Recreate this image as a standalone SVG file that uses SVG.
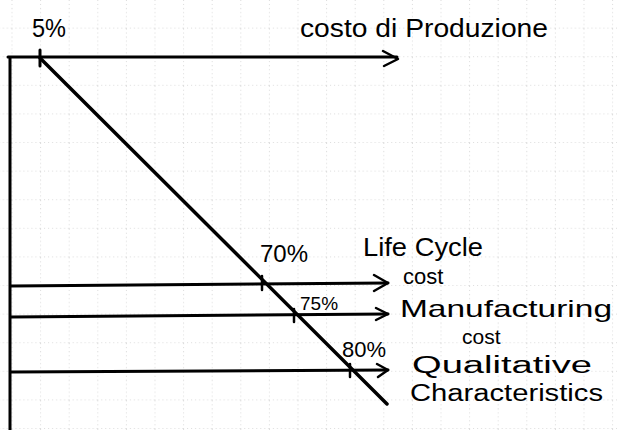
<svg xmlns="http://www.w3.org/2000/svg" width="617" height="430" viewBox="0 0 617 430">
<defs>
<style>
.grid{stroke:#b8b8b8;stroke-width:1;stroke-dasharray:1 3;fill:none}
.ln{stroke:#000;stroke-width:3;fill:none;stroke-linecap:round;stroke-linejoin:round}
.hd{stroke:#000;stroke-width:2.5;fill:none;stroke-linecap:round;stroke-linejoin:round}
.t{font-family:"Liberation Sans","DejaVu Sans",sans-serif;fill:#000}
</style>
<pattern id="g" width="28.6" height="28.6" patternUnits="userSpaceOnUse" x="11.5" y="0">
<path class="grid" d="M0 0V28.6M0 28.6H28.6"/>
</pattern>
</defs>
<rect width="617" height="430" fill="#fff"/>
<rect width="617" height="430" fill="url(#g)"/>
<g id="connectors">
<path class="ln" d="M10 58V430"/>
<path class="ln" d="M8 57H397"/>
<path class="hd" d="M383 51L398 59L384 66"/>
<path class="ln" d="M40 50V66"/>
<path class="ln" d="M40 58L387 404" style="stroke-width:3.5"/>
<path class="ln" d="M11 286L388 283"/>
<path class="hd" d="M374 275L388 283L374 291"/>
<path class="ln" d="M11 317L388 314"/>
<path class="hd" d="M376 308L388 314L376 320"/>
<path class="ln" d="M11 372L388 370"/>
<path class="hd" d="M377 364L388 370L378 377"/>
<path class="hd" d="M262 276V290M294 309V322M350 364V377"/>
</g>
<g id="n5"><text class="t" x="32" y="37" font-size="26" textLength="34" lengthAdjust="spacingAndGlyphs">5%</text></g>
<g id="costo"><text class="t" x="300" y="37" font-size="25" textLength="248" lengthAdjust="spacingAndGlyphs">costo di Produzione</text></g>
<g id="n70"><text class="t" x="260" y="262" font-size="24">70%</text></g>
<g id="life"><text class="t" x="363" y="256" font-size="25" textLength="120" lengthAdjust="spacingAndGlyphs">Life Cycle</text>
<text class="t" x="403" y="284" font-size="22">cost</text></g>
<g id="n75"><text class="t" x="300" y="310" font-size="19">75%</text></g>
<g id="manu"><text class="t" x="400" y="317" font-size="24" textLength="212" lengthAdjust="spacingAndGlyphs">Manufacturing</text>
<text class="t" x="462" y="344" font-size="21">cost</text></g>
<g id="n80"><text class="t" x="342" y="357" font-size="22">80%</text></g>
<g id="qual"><text class="t" x="412" y="373" font-size="23" textLength="180" lengthAdjust="spacingAndGlyphs">Qualitative</text>
<text class="t" x="410" y="401" font-size="23" textLength="193" lengthAdjust="spacingAndGlyphs">Characteristics</text></g>
</svg>
